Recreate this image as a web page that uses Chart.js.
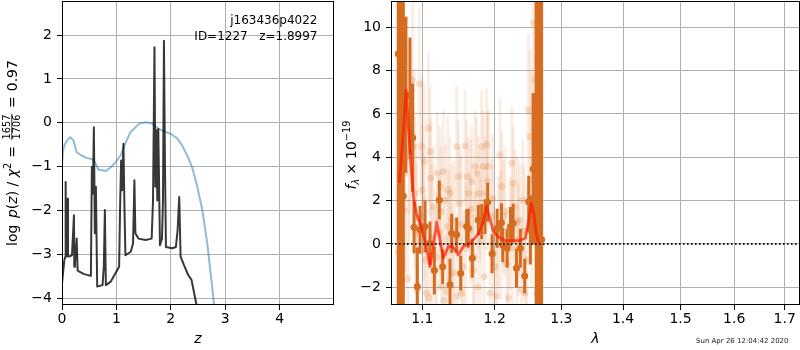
<!DOCTYPE html>
<html>
<head>
<meta charset="utf-8">
<script src="https://cdn.jsdelivr.net/npm/chart.js@4/dist/chart.umd.min.js"></script>
<style>
html, body { margin: 0; padding: 0; background: #fff; }
#wrap { position: relative; width: 800px; height: 350px; overflow: hidden; }
canvas { position: absolute; top: 0; }
</style>
</head>
<body>
<div id="wrap">
  <canvas id="pz" width="340" height="350" style="left:0"></canvas>
  <canvas id="spec" width="464" height="350" style="left:336px"></canvas>
</div>
<script>
// ---- left panel: log p(z) ----
const zTicks = [0, 1, 2, 3, 4];
const logpTicks = [-4, -3, -2, -1, 0, 1, 2];

// prior / smoothed p(z) (blue)
const zPrior = [0, 0.02, 0.05, 0.10, 0.15, 0.21, 0.27, 0.35, 0.45, 0.56, 0.62, 0.67, 0.74, 0.81, 0.90, 0.99, 1.08, 1.16,
  1.26, 1.42, 1.54, 1.66, 1.78, 1.90, 2.00, 2.12, 2.21, 2.30, 2.39, 2.48, 2.58, 2.67, 2.76, 2.81];
const logpPrior = [-0.98, -0.62, -0.50, -0.39, -0.33, -0.40, -0.67, -0.74, -0.80, -0.83, -0.93, -1.07, -1.08, -1.10,
  -1.01, -0.89, -0.74, -0.48, -0.21, -0.02, 0.01, -0.02, -0.14, -0.21, -0.25, -0.36, -0.52, -0.74, -1.01, -1.42,
  -1.99, -2.75, -3.73, -4.34];

// template fit p(z) (black)
const zFit = [0.000, 0.043, 0.062, 0.067, 0.075, 0.085, 0.104, 0.110, 0.128, 0.183, 0.220, 0.226, 0.238, 0.270, 0.287,
  0.300, 0.409, 0.531, 0.549, 0.568, 0.586, 0.604, 0.623, 0.647, 0.745, 0.769, 0.788, 0.806, 0.897, 1.050, 1.068,
  1.087, 1.105, 1.129, 1.148, 1.166, 1.264, 1.306, 1.331, 1.349, 1.404, 1.538, 1.648, 1.673, 1.700, 1.716, 1.734,
  1.752, 1.770, 1.801, 1.838, 1.856, 1.874, 1.893, 1.911, 2.027, 2.094, 2.125, 2.155, 2.180, 2.241, 2.320, 2.381,
  2.442, 2.515];
const logpFit = [-3.66, -3.13, -3.05, -1.35, -3.05, -3.05, -1.73, -3.05, -3.05, -3.02, -2.11, -3.28, -3.20, -2.64,
  -3.36, -3.38, -3.45, -3.49, -1.01, -1.61, -0.10, -2.52, -1.46, -3.73, -3.70, -3.28, -1.99, -3.70, -3.62, -3.28,
  -1.92, -0.86, -1.54, -0.48, -1.92, -3.02, -2.94, -2.75, -1.31, -2.52, -2.64, -2.67, -2.64, -1.77, 1.72, -1.46,
  -0.17, -1.77, -0.14, -2.79, -2.64, -1.77, 1.87, -1.01, -2.83, -2.86, -2.83, -2.45, -1.69, -3.05, -3.24, -3.47,
  -3.58, -3.96, -4.42];

// ---- right panel: spectrum ----
const lamTicks = [1.1, 1.2, 1.3, 1.4, 1.5, 1.6, 1.7];
const fluxTicks = [-2, 0, 2, 4, 6, 8, 10];

// binned spectrum (bold orange)
const lamSpec = [1.0687, 1.0722, 1.0752, 1.0786, 1.0838, 1.0874, 1.0891, 1.0934, 1.0970, 1.1036, 1.1102, 1.1160,
  1.1227, 1.1272, 1.1372, 1.1395, 1.1464, 1.1519, 1.1602, 1.1625, 1.1681, 1.1766, 1.1813, 1.1861, 1.1899, 1.1962,
  1.2035, 1.2097, 1.2116, 1.2180, 1.2229, 1.2268, 1.2317, 1.2376, 1.2440, 1.2500, 1.2525, 1.2566, 1.2612, 1.2652,
  1.2695];
const fluxSpec = [8.77, 5.75, 2.21, 6.88, 6.83, 4.90, 0.77, -1.97, 0.65, 0.80, 0.03, -1.23, 2.03, -1.05, -1.89, 0.49,
  0.42, -1.35, 0.80, 0.72, -0.66, 1.10, 1.03, 1.26, 1.92, -0.46, 0.72, 0.98, -0.05, -0.20, 0.80, 0.95, -1.12, -0.20,
  -1.48, 1.95, 0.65, 3.46, 0.22, 4.61, 0.20];
const errSpec = [30, 30, 30, 3.6, 2.7, 2.5, 1.2, 1.8, 1.1, 1.2, 1.0, 1.1, 0.9, 0.8, 1.2, 0.9, 0.8, 0.8, 0.8, 0.9, 0.9,
  0.7, 0.8, 0.8, 0.9, 0.9, 0.9, 0.9, 0.8, 0.9, 0.9, 0.9, 0.9, 0.9, 0.8, 1.2, 1.6, 3.5, 30, 30, 30];

// individual exposures (faint)
const lamAll = [1.0687, 1.0700, 1.0718, 1.0761, 1.0774, 1.0829, 1.0838, 1.0874, 1.0882, 1.0904, 1.0926, 1.0934,
  1.0960, 1.0992, 1.0995, 1.1013, 1.1036, 1.1058, 1.1080, 1.1102, 1.1111, 1.1146, 1.1169, 1.1200, 1.1227, 1.1236,
  1.1259, 1.1281, 1.1304, 1.1327, 1.1349, 1.1372, 1.1395, 1.1417, 1.1464, 1.1486, 1.1509, 1.1533, 1.1555, 1.1579,
  1.1602, 1.1625, 1.1649, 1.1672, 1.1695, 1.1719, 1.1743, 1.1766, 1.1790, 1.1813, 1.1836, 1.1861, 1.1885, 1.1908,
  1.1933, 1.1957, 1.1980, 1.2004, 1.2052, 1.2077, 1.2101, 1.2125, 1.2175, 1.2223, 1.2248, 1.2271, 1.2296, 1.2321,
  1.2345, 1.2370, 1.2411, 1.2445, 1.2471, 1.2495, 1.2520, 1.2546, 1.2570, 1.2596, 1.2621,
  1.0810, 1.0915, 1.1025, 1.1090, 1.1125, 1.1190, 1.1248, 1.1290, 1.1338, 1.1382, 1.1430, 1.1475, 1.1520, 1.1590,
  1.1660, 1.1708, 1.1755, 1.1800, 1.1850, 1.1895, 1.1970, 1.2030, 1.2090, 1.2150, 1.2200, 1.2260, 1.2333, 1.2390,
  1.2430];
const fluxAll = [-0.35, 2.03, -2.28, 1.57, 3.26, 4.03, 5.34, 7.57, 4.49, 2.34, 0.49, -2.12, 7.38, 4.49, 2.49, 1.26,
  -0.74, -2.28, 5.34, 4.26, 3.03, 1.72, -1.20, 3.26, 0.49, 2.65, -1.97, 3.34, 2.03, -2.20, 0.80, 2.34, 1.10, -1.35,
  4.49, 3.11, 1.88, -2.28, -1.05, 4.52, 3.11, 2.34, 0.65, 2.88, -1.20, 3.57, 3.26, 2.34, 1.72, 4.49, 3.57, 2.34, 4.57,
  3.57, -2.28, 1.26, -0.43, -1.05, 0.49, 4.11, 2.65, 1.26, -0.89, 0.49, 3.72, 2.80, 1.72, -1.05, 0.18, 1.10, 2.03,
  -2.28, -0.74, 6.18, 4.95, 2.95, 10.2, 7.57, -2.28,
  -1.60, 1.20, 3.80, -2.50, 0.30, -0.60, 1.50, -2.60, 2.50, -0.30, 0.20, -2.40, 0.90, -0.20, 1.60, -0.60, -2.00, 0.10,
  -1.50, 2.90, 2.10, -2.40, 0.40, 1.50, -2.50, -0.20, 1.00, -2.10, 0.60];
const errAll = [4.5, 5.0, 4.5, 4.0, 4.5, 4.0, 4.0, 3.8, 3.5, 3.5, 3.2, 3.0, 3.5, 3.2, 3.0, 3.0, 3.0, 3.2, 3.5, 3.0,
  2.8, 2.8, 2.8, 2.8, 2.6, 2.8, 2.6, 2.8, 2.6, 2.6, 2.6, 2.6, 2.6, 2.6, 2.8, 2.6, 2.6, 2.6, 2.6, 2.6, 2.6, 2.6, 2.6,
  2.6, 2.6, 2.6, 2.6, 2.6, 2.6, 2.6, 2.6, 2.6, 2.6, 2.6, 2.6, 2.6, 2.6, 2.6, 2.6, 2.6, 2.6, 2.6, 2.6, 2.6, 2.6, 2.6,
  2.6, 2.6, 2.6, 2.6, 2.8, 3.0, 3.5, 3.5, 4.0, 5.0, 5.0, 5.0, 5.0,
  3.8, 3.4, 3.6, 3.2, 3.4, 3.0, 3.0, 3.0, 3.4, 3.0, 3.6, 3.0, 3.2, 3.0, 3.2, 3.0, 3.0, 3.0, 3.0, 3.2, 3.0, 3.0, 3.0,
  3.0, 3.0, 3.0, 3.0, 3.0, 3.0];

// best-fit model (red)
const lamModel = [1.0700, 1.0745, 1.0786, 1.0816, 1.0847, 1.0882, 1.0926, 1.0979, 1.1013, 1.1058, 1.1102, 1.1146,
  1.1192, 1.1236, 1.1281, 1.1349, 1.1409, 1.1486, 1.1555, 1.1649, 1.1766, 1.1836, 1.1885, 1.1918, 1.1980, 1.2058,
  1.2155, 1.2351, 1.2450, 1.2500, 1.2539, 1.2575, 1.2612, 1.2652];
const fluxModel = [2.80, 4.80, 7.10, 5.60, 3.80, 2.20, 1.35, 0.90, 0.40, -0.20, -1.05, -0.12, 1.00, 0.18, -0.66,
  -0.12, -0.12, -0.51, -0.12, 0.03, 0.45, 1.03, 1.75, 1.30, 0.57, 0.31, 0.15, 0.15, 0.26, 1.10, 1.88, 1.42, 0.49,
  0.03];

const zRange = [0, 5.0];
const logpRange = [-4.153, 2.775];
const lamRange = [1.0594, 1.7315];
const fluxRange = [-2.82, 11.21];

const FONT = '"DejaVu Sans", sans-serif';
const BOLD = 'rgb(214,108,32)';

const pts = (xs, ys) => xs.map((x, i) => ({x, y: ys[i]}));
// vertical error bars as broken line segments
const errBars = (xs, ys, es) => xs.flatMap((x, i) => [
  {x, y: ys[i] - es[i]}, {x, y: ys[i] + es[i]}, {x, y: null}
]);

function axis(type, range, ticks, size, fmt, title) {
  return {
    type,
    min: range[0],
    max: range[1],
    afterBuildTicks: s => { s.ticks = ticks.map(v => ({value: v})); },
    afterFit: s => {
      if (s.isHorizontal()) s.height = size; else s.width = size;
      s.paddingTop = 0; s.paddingBottom = 0; s.paddingLeft = 0; s.paddingRight = 0;
    },
    grid: {color: '#b0b0b0', lineWidth: 1, tickColor: '#000', tickLength: 5, drawTicks: true},
    border: {display: false},
    ticks: {
      color: '#000',
      font: {family: FONT, size: 14},
      padding: title ? 1 : 5,
      autoSkip: false,
      maxRotation: 0,
      callback: fmt
    },
    title: title ? {
      display: true, text: title, color: '#000',
      font: {family: FONT, size: 14, style: 'italic'},
      padding: {top: 0, bottom: 2}
    } : {display: false}
  };
}

const intFmt = v => String(v).replace('-', '\u2212');

const frame = {
  id: 'frame',
  afterDatasetsDraw(chart) {
    const {ctx, chartArea: a} = chart;
    ctx.save();
    ctx.strokeStyle = '#000';
    ctx.lineWidth = 1;
    ctx.strokeRect(a.left + 0.5, a.top + 0.5, a.right - a.left - 1, a.bottom - a.top - 1);
    ctx.restore();
  }
};

// draws a run of mixed text rotated by -90deg, centred on (cx, cy), baseline at cx
function richText(ctx, cx, cy, runs) {
  ctx.save();
  ctx.translate(cx, cy);
  ctx.rotate(-Math.PI / 2);
  ctx.fillStyle = '#000';
  ctx.textBaseline = 'alphabetic';
  const fontOf = r => (r.italic ? 'italic ' : '') + r.size + 'px ' + FONT;
  let total = 0;
  runs.forEach(r => {
    ctx.font = fontOf(r);
    if (r.frac) {
      r.w = Math.max(ctx.measureText(r.frac[0]).width, ctx.measureText(r.frac[1]).width) + 3;
    } else if (r.gap) {
      r.w = r.gap;
    } else {
      r.w = ctx.measureText(r.text).width;
    }
    total += r.w;
  });
  let x = -total / 2;
  runs.forEach(r => {
    ctx.font = fontOf(r);
    if (r.frac) {
      const barY = -5.2;
      ctx.textAlign = 'center';
      ctx.fillText(r.frac[0], x + r.w / 2, barY - 1.6);
      ctx.fillText(r.frac[1], x + r.w / 2, barY + 1.4 + r.size * 0.73);
      ctx.fillRect(x + 0.8, barY - 0.4, r.w - 1.6, 0.8);
    } else if (r.text) {
      ctx.textAlign = 'left';
      ctx.fillText(r.text, x, r.dy || 0);
    }
    x += r.w;
  });
  ctx.restore();
}

const pzText = {
  id: 'pzText',
  afterDraw(chart) {
    const ctx = chart.ctx;
    ctx.save();
    ctx.fillStyle = '#000';
    ctx.font = '12px ' + FONT;
    ctx.textAlign = 'right';
    ctx.textBaseline = 'alphabetic';
    ctx.fillText('j163436p4022', 317.5, 23.5);
    ctx.fillText('ID=1227   z=1.8997', 317.5, 39.5);
    ctx.restore();
    richText(ctx, 17, 153, [
      {text: 'log', size: 14},
      {gap: 6.5, size: 14},
      {text: 'p', size: 14, italic: true},
      {text: '(', size: 14},
      {text: 'z', size: 14, italic: true},
      {text: ')', size: 14},
      {gap: 4.5, size: 14},
      {text: '/', size: 14},
      {gap: 4.5, size: 14},
      {text: '\u03c7', size: 14, italic: true},
      {text: '2', size: 9.8, dy: -6},
      {gap: 5, size: 14},
      {text: '=', size: 14},
      {gap: 5, size: 14},
      {frac: ['1657', '1706'], size: 9.8},
      {gap: 5, size: 14},
      {text: '=', size: 14},
      {gap: 5, size: 14},
      {text: '0.97', size: 14}
    ]);
  }
};

const specText = {
  id: 'specText',
  afterDraw(chart) {
    const ctx = chart.ctx;
    richText(ctx, 20, 155, [
      {text: 'f', size: 14, italic: true},
      {text: '\u03bb', size: 9.8, italic: true, dy: 3},
      {gap: 4, size: 14},
      {text: '\u00d7', size: 14},
      {gap: 4, size: 14},
      {text: '10', size: 14},
      {text: '\u221219', size: 9.8, dy: -6.5}
    ]);
    ctx.save();
    ctx.fillStyle = '#222';
    ctx.font = '7px ' + FONT;
    ctx.textAlign = 'left';
    ctx.textBaseline = 'alphabetic';
    ctx.fillText('Sun Apr 26 12:04:42 2020', 360, 342.5);
    ctx.restore();
  }
};

const common = {
  responsive: false,
  animation: false,
  devicePixelRatio: 1,
  plugins: {legend: {display: false}, tooltip: {enabled: false}}
};

const line = (data, color, width, extra) => Object.assign({
  data, showLine: true, borderColor: color, borderWidth: width, pointRadius: 0,
  borderJoinStyle: 'round', spanGaps: false, clip: 0
}, extra || {});

new Chart(document.getElementById('pz'), {
  type: 'scatter',
  data: {
    datasets: [
      line(pts(zFit, logpFit), 'rgba(0,0,0,0.78)', 2),
      line(pts(zPrior, logpPrior), 'rgba(31,119,180,0.5)', 2)
    ]
  },
  options: Object.assign({}, common, {
    layout: {padding: {left: 0, right: 6, top: 1, bottom: 0}, autoPadding: false},
    scales: {
      x: axis('linear', zRange, zTicks, 45, intFmt, 'z'),
      y: axis('linear', logpRange, logpTicks, 62, intFmt)
    }
  }),
  plugins: [frame, pzText]
});

new Chart(document.getElementById('spec'), {
  type: 'scatter',
  data: {
    datasets: [
      line([{x: lamRange[0], y: 0}, {x: lamRange[1], y: 0}], '#222', 2, {borderDash: [1.6, 2.4]}),
      line(pts(lamModel, fluxModel), 'rgba(255,25,0,0.7)', 2.8),
      {data: pts(lamSpec, fluxSpec), pointRadius: 3.5, pointBackgroundColor: BOLD, pointBorderWidth: 0, clip: 0},
      line(errBars(lamSpec, fluxSpec, errSpec), BOLD, 3, {borderCapStyle: 'butt'}),
      {data: pts(lamAll, fluxAll), pointRadius: 3.5, pointBackgroundColor: 'rgba(214,108,32,0.2)',
        pointBorderWidth: 0, clip: 0},
      line(errBars(lamAll, fluxAll, errAll), 'rgba(225,115,40,0.12)', 3, {borderCapStyle: 'butt', segment: {}})
    ]
  },
  options: Object.assign({}, common, {
    layout: {padding: {left: 0, right: 0, top: 1, bottom: 0}, autoPadding: false},
    scales: {
      x: axis('logarithmic', lamRange, lamTicks, 45, v => Number(v).toFixed(1), '\u03bb'),
      y: axis('linear', fluxRange, fluxTicks, 55, intFmt)
    }
  }),
  plugins: [frame, specText]
});
</script>
</body>
</html>
